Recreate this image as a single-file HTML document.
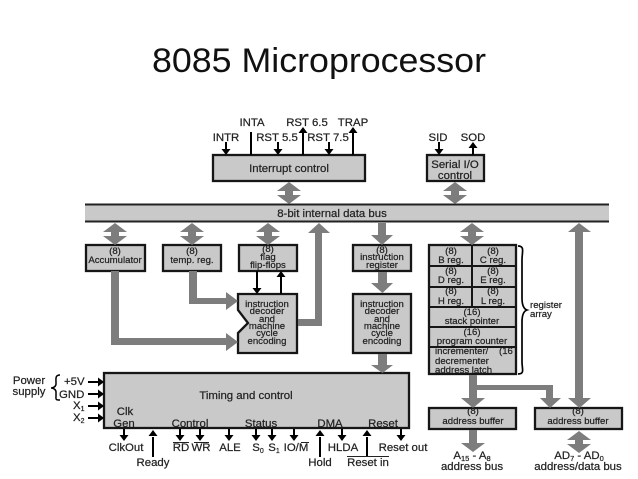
<!DOCTYPE html>
<html><head><meta charset="utf-8"><style>
html,body{margin:0;padding:0;background:#fff;width:638px;height:479px;overflow:hidden}
svg{position:absolute;left:0;top:0}
#d{filter:blur(.35px)}
#d text{font-family:"Liberation Sans",sans-serif;fill:#222;stroke:#222;stroke-width:.22;text-anchor:middle;font-size:9.6px}
#d .l{font-size:11.4px}
#d .s{text-anchor:start}
.b{fill:#c9c9c9;stroke:#161616;stroke-width:2.3}
.a{fill:#7d7d7d}
.t{stroke:#000;stroke-width:2;fill:none}
.h{fill:#000}
</style></head><body>
<svg width="638" height="479"><text x="152" y="72" font-family="'Liberation Sans',sans-serif" font-size="34" fill="#111" textLength="334" lengthAdjust="spacingAndGlyphs">8085 Microprocessor</text></svg>
<svg id="d" width="638" height="479" viewBox="0 0 638 479">
<defs>
<polygon id="dbl" class="a" points="0,0 12,9 4,9 4,13 12,13 0,22 -12,13 -4,13 -4,9 -12,9"/>
<polygon id="dn" class="h" points="-4.500,-6 4.500,-6 0,0"/>
<polygon id="up" class="h" points="-4.500,6 4.500,6 0,0"/>
<polygon id="rt" class="h" points="-6,-4.500 -6,4.500 0,0"/>
</defs>

<!-- boxes -->
<rect class="b" x="213" y="155" width="152" height="26"/>
<rect class="b" x="427" y="155" width="57" height="26"/>
<rect x="85" y="204" width="524" height="18" fill="#c9c9c9"/>
<path d="M85 204.500H609M85 221.500H609" stroke="#222" stroke-width="2"/>
<rect class="b" x="86" y="245" width="59" height="26"/>
<rect class="b" x="163" y="245" width="58" height="26"/>
<rect class="b" x="239" y="245" width="58" height="26"/>
<path class="b" d="M238 294H297V353H238V333L248 323L238 310Z"/>
<rect class="b" x="353" y="245" width="58" height="26"/>
<rect class="b" x="353" y="294" width="58" height="59"/>
<rect class="b" x="429" y="245" width="87" height="129"/>
<path d="M429 266H516M429 287H516M429 307H516M429 327H516M429 347H516M472 245V307" stroke="#161616" stroke-width="2" fill="none"/>
<rect class="b" x="104" y="373" width="305" height="55"/>
<rect class="b" x="429" y="408" width="87" height="21"/>
<rect class="b" x="535" y="408" width="87" height="21"/>

<!-- big arrows -->
<use href="#dbl" x="289" y="182"/>
<use href="#dbl" x="455" y="182"/>
<use href="#dbl" x="115" y="223"/>
<use href="#dbl" x="192" y="223"/>
<use href="#dbl" x="268" y="223"/>
<use href="#dbl" x="472" y="223"/>
<use href="#dbl" x="579" y="431"/>
<polygon class="a" points="378,223 386,223 386,235 393,235 382,245 371,235 378,235"/>
<polygon class="a" points="378,272 387,272 387,283 393,283 382.500,293 371,283 378,283"/>
<polygon class="a" points="378,354 387,354 387,365 393,365 382.500,373 371,365 378,365"/>
<polygon class="a" points="579,223 591,232 583,232 583,398 591,398 579.500,408 568,398 575,398 575,232 568,232"/>
<polygon class="a" points="111,271 119,271 119,338 226,338 226,333 238,342 226,351 226,345 111,345"/>
<polygon class="a" points="189,271 197,271 197,298 226,298 226,292 238,301 226,310 226,304 189,304"/>
<polygon class="a" points="298,319 315,319 315,233 308,233 319,223 330,233 322,233 322,326 298,326"/>
<polygon class="a" points="469,375 477,375 477,385 553,385 553,398 561,398 550,408 540,398 546,398 546,390 477,390 477,398 485,398 473,408 461,398 469,398"/>
<polygon class="a" points="469,430 477,430 477,443 485,443 473,452 461,443 469,443"/>

<!-- thin arrows -->
<path class="t" d="M226 142V150M251 132V155M278 142V150M303 132V155M329 142V150M353 132V155M439 142V150M473 146V155M257 271V289M281 276V294M88 382H99M88 394H99M88 406H99M88 418H99M124 429V436M153 437V457M180 429V436M200 429V436M229 429V436M256 429V436M272 429V436M294 429V436M320 437V457M342 429V436M367 437V457M401 429V436"/>
<use href="#dn" x="226" y="155"/><use href="#dn" x="278" y="155"/><use href="#dn" x="329" y="155"/><use href="#dn" x="439" y="155"/>
<use href="#up" x="303" y="127"/><use href="#up" x="353" y="127"/><use href="#up" x="473" y="142"/>
<use href="#dn" x="257" y="294"/><use href="#up" x="281" y="271"/>
<use href="#rt" x="104" y="382"/><use href="#rt" x="104" y="394"/><use href="#rt" x="104" y="406"/><use href="#rt" x="104" y="418"/>
<use href="#dn" x="124" y="441"/><use href="#up" x="153" y="430"/><use href="#dn" x="180" y="441"/><use href="#dn" x="200" y="441"/><use href="#dn" x="229" y="441"/><use href="#dn" x="256" y="441"/><use href="#dn" x="272" y="441"/><use href="#dn" x="294" y="441"/><use href="#up" x="320" y="430"/><use href="#dn" x="342" y="441"/><use href="#up" x="367" y="430"/><use href="#dn" x="401" y="441"/>

<!-- braces -->
<path d="M518 246C525 246 522 252 522 260V298C522 305 524 309 527 310C524 311 522 315 522 322V362C522 369 525 374 518 374" fill="none" stroke="#000" stroke-width="1.700"/>
<path d="M60 375C55 375 56 379 56 382V384C56 386 54 388 51 388C54 388 56 390 56 392V396C56 399 55 400 60 400" fill="none" stroke="#000" stroke-width="1.500"/>

<!-- overlines -->
<path d="M173 442.500H189M194 442.500H209M301 442.500H309M347 456.500H389" stroke="#222" stroke-width="1" fill="none"/>

<!-- labels -->
<text class="l" x="252" y="126">INTA</text>
<text class="l" x="307" y="126">RST 6.5</text>
<text class="l" x="353" y="126">TRAP</text>
<text class="l" x="226" y="141">INTR</text>
<text class="l" x="277" y="141">RST 5.5</text>
<text class="l" x="328" y="141">RST 7.5</text>
<text class="l" x="438" y="141">SID</text>
<text class="l" x="473" y="141">SOD</text>
<text class="l" x="289" y="172">Interrupt control</text>
<text class="l" x="455" y="168">Serial I/O</text>
<text class="l" x="455" y="179">control</text>
<text class="l" x="332" y="217">8-bit internal data bus</text>
<text class="l" x="246" y="399">Timing and control</text>
<text class="l" x="29" y="384">Power</text>
<text class="l" x="29" y="395">supply</text>
<text class="l s" x="64" y="385">+5V</text>
<text class="l s" x="59" y="398">GND</text>
<text class="l s" x="73" y="409">X<tspan font-size="7" dy="2">1</tspan></text>
<text class="l s" x="73" y="421">X<tspan font-size="7" dy="2">2</tspan></text>
<text class="l" x="125" y="415">Clk</text>
<text class="l" x="124" y="427">Gen</text>
<text class="l" x="190" y="427">Control</text>
<text class="l" x="261" y="427">Status</text>
<text class="l" x="330" y="427">DMA</text>
<text class="l" x="383" y="427">Reset</text>
<text class="l" x="126" y="451">ClkOut</text>
<text class="l" x="181" y="451">RD</text>
<text class="l" x="201" y="451">WR</text>
<text class="l" x="230" y="451">ALE</text>
<text class="l" x="258" y="451">S<tspan font-size="7" dy="2">0</tspan></text>
<text class="l" x="274" y="451">S<tspan font-size="7" dy="2">1</tspan></text>
<text class="l" x="296" y="451">IO/M</text>
<text class="l" x="343" y="451">HLDA</text>
<text class="l" x="403" y="451">Reset out</text>
<text class="l" x="153" y="466">Ready</text>
<text class="l" x="320" y="466">Hold</text>
<text class="l" x="368" y="466">Reset in</text>
<text class="l" x="472" y="459">A<tspan font-size="7.500" dy="2">15</tspan><tspan dy="-2"> - A</tspan><tspan font-size="7.500" dy="2">8</tspan></text>
<text class="l" x="472" y="470">address bus</text>
<text class="l" x="579" y="459">AD<tspan font-size="7.500" dy="2">7</tspan><tspan dy="-2"> - AD</tspan><tspan font-size="7.500" dy="2">0</tspan></text>
<text class="l" x="578" y="470">address/data bus</text>

<text x="115" y="254">(8)</text><text x="115" y="263">Accumulator</text>
<text x="192" y="254">(8)</text><text x="192" y="263">temp. reg.</text>
<text x="268" y="252">(8)</text><text x="268" y="260">flag</text><text x="268" y="268">flip-flops</text>
<text x="267" y="307">instruction</text><text x="267" y="314">decoder</text><text x="267" y="322">and</text><text x="267" y="329">machine</text><text x="267" y="336">cycle</text><text x="267" y="344">encoding</text>
<text x="382" y="253">(8)</text><text x="382" y="260">instruction</text><text x="382" y="268">register</text>
<text x="382" y="307">instruction</text><text x="382" y="314">decoder</text><text x="382" y="322">and</text><text x="382" y="329">machine</text><text x="382" y="336">cycle</text><text x="382" y="344">encoding</text>
<text x="451" y="254">(8)</text><text x="451" y="263">B reg.</text>
<text x="493" y="254">(8)</text><text x="493" y="263">C reg.</text>
<text x="451" y="274">(8)</text><text x="451" y="283">D reg.</text>
<text x="493" y="274">(8)</text><text x="493" y="283">E reg.</text>
<text x="451" y="294">(8)</text><text x="451" y="304">H reg.</text>
<text x="493" y="294">(8)</text><text x="493" y="304">L reg.</text>
<text x="472" y="315">(16)</text><text x="472" y="324">stack pointer</text>
<text x="472" y="335">(16)</text><text x="472" y="344">program counter</text>
<text class="s" x="435" y="354">incrementer/</text><text class="s" x="499" y="354">(16</text>
<text class="s" x="435" y="364">decrementer</text><text class="s" x="435" y="373">address latch</text>
<text class="s" x="530" y="308">register</text><text class="s" x="530" y="317">array</text>
<text x="473" y="414">(8)</text><text x="473" y="424">address buffer</text>
<text x="578" y="414">(8)</text><text x="578" y="424">address buffer</text>
</svg>
</body></html>
